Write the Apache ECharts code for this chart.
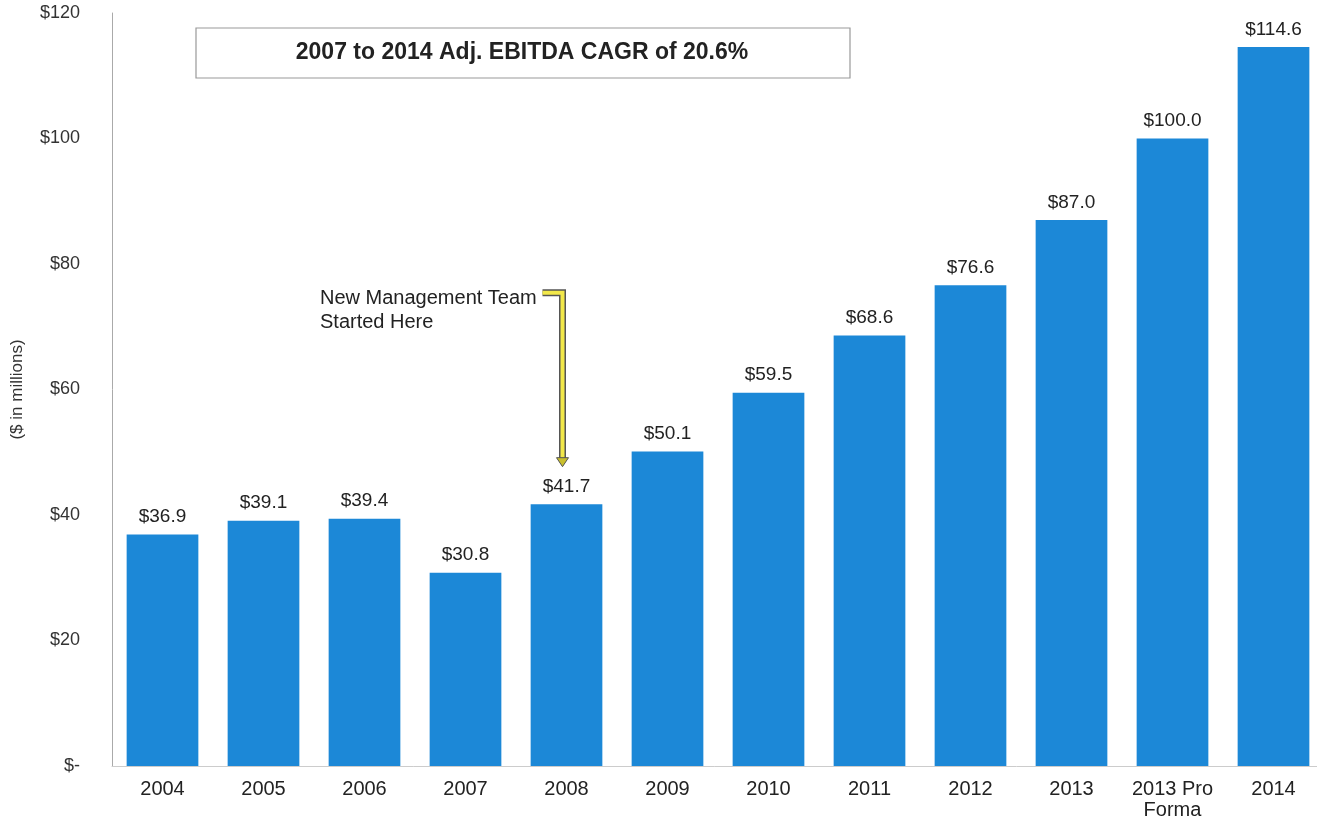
<!DOCTYPE html>
<html><head><meta charset="utf-8">
<script src="https://cdn.jsdelivr.net/npm/echarts@6/dist/echarts.min.js"></script>
<style>html,body{margin:0;padding:0;background:#fff}#c{width:1317px;height:823px}</style>
</head><body><div id="c"></div>
<script>
const categories = ['2004','2005','2006','2007','2008','2009','2010','2011','2012','2013','2013 Pro\nForma','2014'];
const ebitda = [36.9, 39.1, 39.4, 30.8, 41.7, 50.1, 59.5, 68.6, 76.6, 87.0, 100.0, 114.6];
const yTicks = [0, 20, 40, 60, 80, 100, 120];
const titleText = '2007 to 2014 Adj. EBITDA CAGR of 20.6%';
const noteText = 'New Management Team\nStarted Here';
const noteCategory = '2008';

const chart = echarts.init(document.getElementById('c'));
const font = 'Liberation Sans, Arial, sans-serif';
chart.setOption({
  animation: false,
  grid: { left: 112, top: 13, width: 1212, bottom: 57, containLabel: false, outerBoundsMode: 'none' },
  xAxis: {
    type: 'category', data: categories,
    axisLine: { lineStyle: { color: '#ccc', width: 1 } },
    axisTick: { show: false },
    axisLabel: { color: '#222', fontSize: 20, fontFamily: font, margin: 13, lineHeight: 21, interval: 0 }
  },
  yAxis: {
    type: 'value', min: yTicks[0], max: yTicks[yTicks.length - 1], interval: yTicks[1] - yTicks[0],
    name: '($ in millions)', nameLocation: 'middle', nameGap: 86, nameRotate: 90,
    nameTextStyle: { color: '#333', fontSize: 17, fontFamily: font },
    axisLine: { show: true, lineStyle: { color: '#aaa', width: 1 } },
    axisTick: { show: false },
    splitLine: { show: false },
    axisLabel: { color: '#333', fontSize: 18, fontFamily: font, margin: 32,
      formatter: v => v === 0 ? '$-' : '$' + v }
  },
  series: [{
    type: 'bar', data: ebitda, barWidth: '71%',
    itemStyle: { color: '#1c88d7' },
    label: { show: true, position: 'top', distance: 8, color: '#222', fontSize: 19, fontFamily: font,
      formatter: p => '$' + p.value.toFixed(1) }
  }]
});

const noteIdx = categories.indexOf(noteCategory);
const tipPt = chart.convertToPixel({ gridIndex: 0 }, [noteIdx, ebitda[noteIdx] + 6]);
const topPt = chart.convertToPixel({ gridIndex: 0 }, [noteIdx, 75.4]);
const ax = tipPt[0] - 4;
const pts = [[ax - 20, topPt[1]], [ax, topPt[1]], [ax, tipPt[1] - 8]];
chart.setOption({
  graphic: [
    { type: 'rect', shape: { x: 196, y: 28, width: 654, height: 50 },
      style: { fill: '#fff', stroke: '#999', lineWidth: 1.2 } },
    { type: 'text', x: 522, y: 53, style: { text: titleText, fill: '#222', font: 'bold 23px ' + font, align: 'center', verticalAlign: 'middle' } },
    { type: 'text', x: 320, y: 286, style: { text: noteText, fill: '#222', font: '20px ' + font, lineHeight: 24 } },
    { type: 'polyline', shape: { points: pts }, style: { stroke: '#555', lineWidth: 7, fill: null } },
    { type: 'polyline', shape: { points: pts }, style: { stroke: '#f2e84a', lineWidth: 4, fill: null } },
    { type: 'polygon', shape: { points: [[ax - 6, tipPt[1] - 9], [ax + 6, tipPt[1] - 9], [ax, tipPt[1]]] },
      style: { fill: '#c9bf2c', stroke: '#555', lineWidth: 1 } }
  ]
});
</script></body></html>
